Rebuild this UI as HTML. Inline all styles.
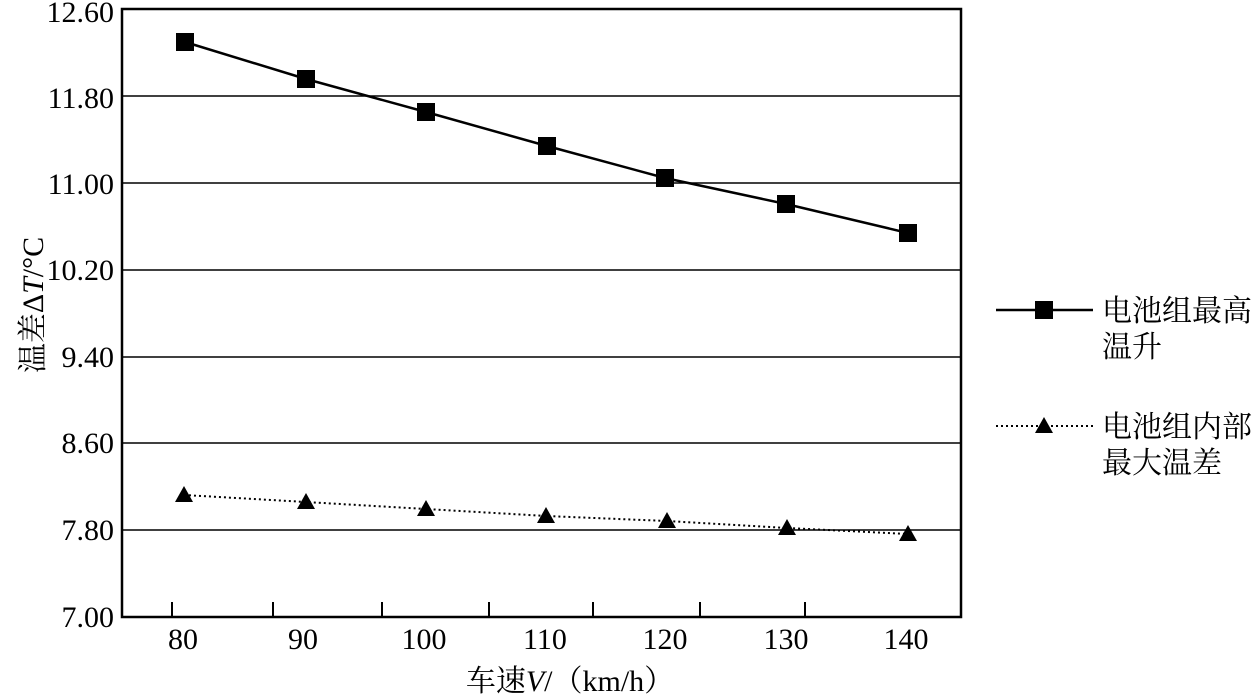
<!DOCTYPE html>
<html><head><meta charset="utf-8"><style>
html,body{margin:0;padding:0;background:#fff;width:1256px;height:696px;overflow:hidden}
text{font-family:"Liberation Serif","Noto Serif CJK SC",serif;fill:#000}
</style></head><body>
<svg width="1256" height="696" xmlns="http://www.w3.org/2000/svg">
<g stroke="#000" stroke-width="1.5">
<line x1="122" y1="96" x2="961" y2="96"/>
<line x1="122" y1="183" x2="961" y2="183"/>
<line x1="122" y1="270" x2="961" y2="270"/>
<line x1="122" y1="357" x2="961" y2="357"/>
<line x1="122" y1="443" x2="961" y2="443"/>
<line x1="122" y1="530" x2="961" y2="530"/>
</g>
<rect x="122" y="9" width="839" height="608" fill="none" stroke="#000" stroke-width="2.5"/>
<g stroke="#000" stroke-width="2">
<line x1="172" y1="602" x2="172" y2="617"/>
<line x1="273" y1="602" x2="273" y2="617"/>
<line x1="382" y1="602" x2="382" y2="617"/>
<line x1="489" y1="602" x2="489" y2="617"/>
<line x1="593" y1="602" x2="593" y2="617"/>
<line x1="700" y1="602" x2="700" y2="617"/>
<line x1="805" y1="602" x2="805" y2="617"/>
</g>
<g font-size="30" text-anchor="end">
<text x="114" y="22">12.60</text><text x="114" y="108">11.80</text>
<text x="114" y="194">11.00</text><text x="114" y="280">10.20</text>
<text x="114" y="367">9.40</text><text x="114" y="453">8.60</text>
<text x="114" y="540">7.80</text><text x="114" y="627">7.00</text>
</g>
<g font-size="30" text-anchor="middle">
<text x="183" y="649">80</text><text x="303" y="649">90</text><text x="424" y="649">100</text>
<text x="545" y="649">110</text><text x="665" y="649">120</text><text x="786" y="649">130</text><text x="906" y="649">140</text>
</g>
<text x="570" y="691" font-size="30" text-anchor="middle">车速<tspan font-style="italic">V</tspan>/（km/h）</text>
<text transform="translate(43,305) rotate(-90)" font-size="30" text-anchor="middle">温差Δ<tspan font-style="italic">T</tspan>/°C</text>
<polyline points="185,42 306,79 426,112 547,146 665,178 786,204 908,233" fill="none" stroke="#000" stroke-width="2.5"/>
<g fill="#000">
<rect x="176" y="33" width="18" height="18"/><rect x="297" y="70" width="18" height="18"/>
<rect x="417" y="103" width="18" height="18"/><rect x="538" y="137" width="18" height="18"/>
<rect x="656" y="169" width="18" height="18"/><rect x="777" y="195" width="18" height="18"/>
<rect x="899" y="224" width="18" height="18"/>
</g>
<polyline points="184,495 306,502 426,509 546,516 667,521 787,528 908,534" fill="none" stroke="#000" stroke-width="2" stroke-dasharray="2,3"/>
<g fill="#000">
<polygon points="184,486 193,502 175,502"/><polygon points="306,493 315,509 297,509"/>
<polygon points="426,500 435,516 417,516"/><polygon points="546,507 555,523 537,523"/>
<polygon points="667,512 676,528 658,528"/><polygon points="787,519 796,535 778,535"/>
<polygon points="908,525 917,541 899,541"/>
</g>
<line x1="996" y1="310" x2="1093" y2="310" stroke="#000" stroke-width="2.5"/>
<rect x="1035" y="301" width="18" height="18" fill="#000"/>
<line x1="996" y1="426" x2="1093" y2="426" stroke="#000" stroke-width="2" stroke-dasharray="2,3"/>
<polygon points="1044,417 1053,433 1035,433" fill="#000"/>
<g font-size="30">
<text x="1102" y="321">电池组最高</text><text x="1102" y="357">温升</text>
<text x="1102" y="437">电池组内部</text><text x="1102" y="473">最大温差</text>
</g>
</svg>
</body></html>
